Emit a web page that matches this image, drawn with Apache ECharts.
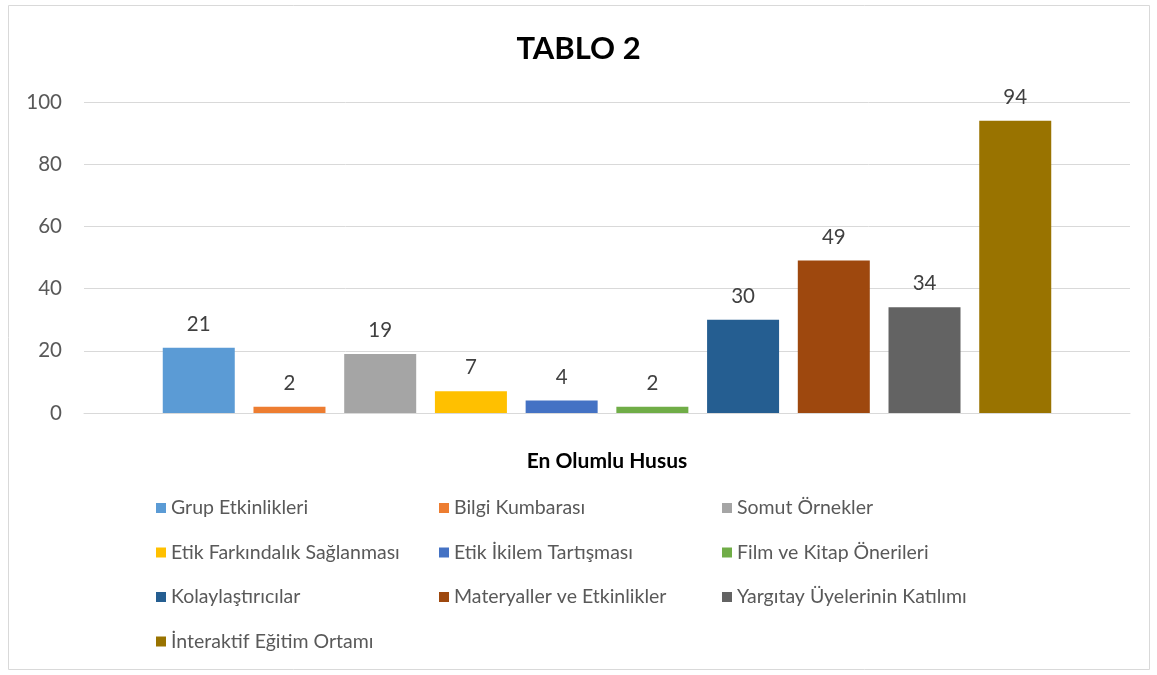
<!DOCTYPE html>
<html>
<head>
<meta charset="utf-8">
<script src="https://cdn.jsdelivr.net/npm/echarts@6/dist/echarts.min.js"></script>
<style>
  html, body { margin: 0; padding: 0; background: #fff; }
  #chart { width: 1157px; height: 675px; }
</style>
</head>
<body>
<div id="chart"></div>
<script>
var category = ['En Olumlu Husus'];
var names = [
  'Grup Etkinlikleri',
  'Bilgi Kumbarası',
  'Somut Örnekler',
  'Etik Farkındalık Sağlanması',
  'Etik İkilem Tartışması',
  'Film ve Kitap Önerileri',
  'Kolaylaştırıcılar',
  'Materyaller ve Etkinlikler',
  'Yargıtay Üyelerinin Katılımı',
  'İnteraktif Eğitim Ortamı'
];
var values = [21, 2, 19, 7, 4, 2, 30, 49, 34, 94];
var colors = ['#5B9BD5', '#ED7D31', '#A5A5A5', '#FFC000', '#4472C4',
              '#70AD47', '#255E91', '#9E480E', '#636363', '#997300'];

var font = 'Lato, "Open Sans", sans-serif';
var myChart = echarts.init(document.getElementById('chart'));

// one legend per item so they sit in three columns
var legends = names.map(function (n, i) {
  return {
    data: [n],
    left: 151 + (i % 3) * 283,
    top: 493 + Math.floor(i / 3) * 44.5,
    itemWidth: 10,
    itemHeight: 10,
    itemGap: 6,
    icon: 'rect',
    textStyle: { color: '#595959', fontSize: 19.5, fontFamily: font }
  };
});

myChart.setOption({
  animation: false,
  color: colors,
  title: {
    text: 'TABLO 2',
    left: 'center',
    top: 28,
    textStyle: { fontSize: 31, fontWeight: 'bold', color: '#000', fontFamily: font }
  },
  graphic: [{
    type: 'rect',
    shape: { x: 8.5, y: 5.5, width: 1141, height: 664 },
    style: { fill: 'none', stroke: '#d9d9d9', lineWidth: 1 },
    silent: true
  }],
  legend: legends,
  grid: { left: 84, right: 27, top: 102, height: 311 },
  xAxis: {
    type: 'category',
    data: category,
    name: category[0],
    nameLocation: 'middle',
    nameGap: 38,
    nameTextStyle: { fontSize: 21, fontWeight: 'bold', color: '#000', fontFamily: font },
    axisLine: { lineStyle: { color: '#d9d9d9' } },
    axisTick: { show: false },
    axisLabel: { show: false }
  },
  yAxis: {
    type: 'value',
    min: 0,
    max: 100,
    interval: 20,
    axisLine: { show: false },
    axisTick: { show: false },
    axisLabel: { color: '#595959', fontSize: 20.5, fontFamily: font, margin: 22 },
    splitLine: { lineStyle: { color: '#d9d9d9' } }
  },
  series: names.map(function (n, i) {
    return {
      name: n,
      type: 'bar',
      data: [values[i]],
      barWidth: 72,
      barGap: '26%',
      label: {
        show: true,
        position: 'top',
        distance: 13,
        color: '#404040',
        fontSize: 20.5,
        fontFamily: font
      }
    };
  })
});
</script>
</body>
</html>
